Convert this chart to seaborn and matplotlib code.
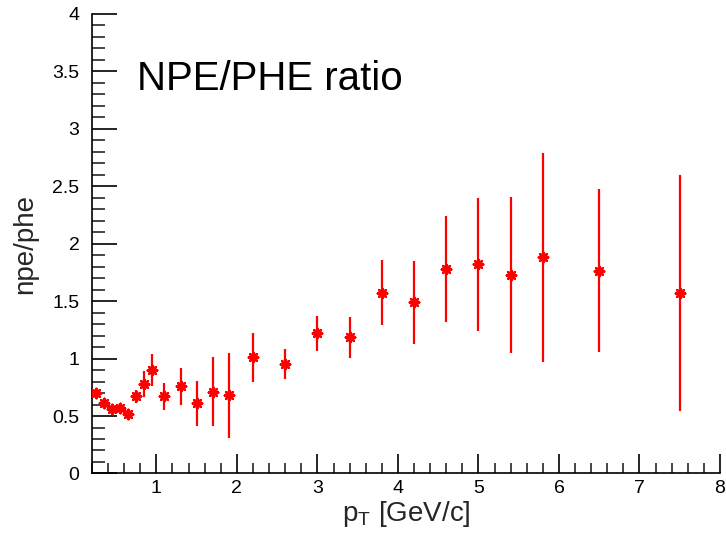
import matplotlib
matplotlib.use("Agg")
import matplotlib.pyplot as plt
import seaborn as sns
import pandas as pd
from matplotlib.ticker import MultipleLocator

pt = [0.25, 0.35, 0.45, 0.55, 0.65, 0.75, 0.85, 0.95, 1.1, 1.3, 1.5, 1.7, 1.9,
      2.2, 2.6, 3.0, 3.4, 3.8, 4.2, 4.6, 5.0, 5.4, 5.8, 6.5, 7.5]
ratio = [0.70, 0.61, 0.56, 0.57, 0.52, 0.67, 0.78, 0.90, 0.67, 0.76, 0.61, 0.71, 0.68,
         1.01, 0.95, 1.22, 1.185, 1.575, 1.49, 1.78, 1.82, 1.73, 1.88, 1.765, 1.57]
err = [0.04, 0.04, 0.04, 0.04, 0.04, 0.06, 0.115, 0.14, 0.115, 0.16, 0.195, 0.30, 0.37,
       0.21, 0.13, 0.15, 0.18, 0.285, 0.36, 0.465, 0.58, 0.68, 0.91, 0.71, 1.03]

df = pd.DataFrame({"pt": pt, "ratio": ratio, "err": err})

sns.set_style("ticks")
plt.rcParams["font.family"] = ["Liberation Sans", "DejaVu Sans"]

fig = plt.figure(figsize=(7.26, 5.35), dpi=100)
ax = fig.add_axes([0.1267, 0.115, 0.865, 0.859])

ax.errorbar(df["pt"], df["ratio"], yerr=df["err"], fmt="none", ecolor="#ff0000",
            elinewidth=1.6, capsize=0, zorder=2)
sns.scatterplot(data=df, x="pt", y="ratio", ax=ax, marker=(8, 2, 0), s=45,
                color="#ff0000", edgecolor="#ff0000", linewidth=1.8, zorder=3)

ax.set_xlim(0.2, 8.0)
ax.set_ylim(0, 4)
ax.xaxis.set_major_locator(MultipleLocator(1))
ax.xaxis.set_minor_locator(MultipleLocator(0.2))
ax.yaxis.set_major_locator(MultipleLocator(0.5))
ax.yaxis.set_minor_locator(MultipleLocator(0.1))
ax.set_yticks([0, 0.5, 1, 1.5, 2, 2.5, 3, 3.5, 4])
ax.set_yticklabels(["0", "0.5", "1", "1.5", "2", "2.5", "3", "3.5", "4"])
ax.set_xticks([1, 2, 3, 4, 5, 6, 7, 8])
ax.set_xticklabels(["1", "2", "3", "4", "5", "6", "7", "8"])

ax.tick_params(axis="y", which="major", direction="in", length=18, width=1.2,
               labelsize=14, pad=9, colors="black")
ax.tick_params(axis="y", which="minor", direction="in", length=9, width=1.2)
ax.tick_params(axis="x", which="major", direction="in", length=14, width=1.2,
               labelsize=14, pad=5, colors="black")
ax.tick_params(axis="x", which="minor", direction="in", length=7, width=1.2)

for side in ["top", "right"]:
    ax.spines[side].set_visible(False)
for side in ["left", "bottom"]:
    ax.spines[side].set_linewidth(1.2)
    ax.spines[side].set_color("black")

ax.set_xlabel(r"p$_{\mathregular{T}}$ [GeV/c]", fontsize=20)
ax.xaxis.set_label_coords(0.5, -0.055, transform=ax.transAxes)
ax.xaxis.label.set_verticalalignment("top")
ax.set_ylabel("npe/phe", fontsize=20, labelpad=10)

ax.text(137, 535 - 90, "NPE/PHE ratio", transform=None, fontsize=29,
        ha="left", va="baseline", color="black")

fig.savefig("out.png", dpi=100)
